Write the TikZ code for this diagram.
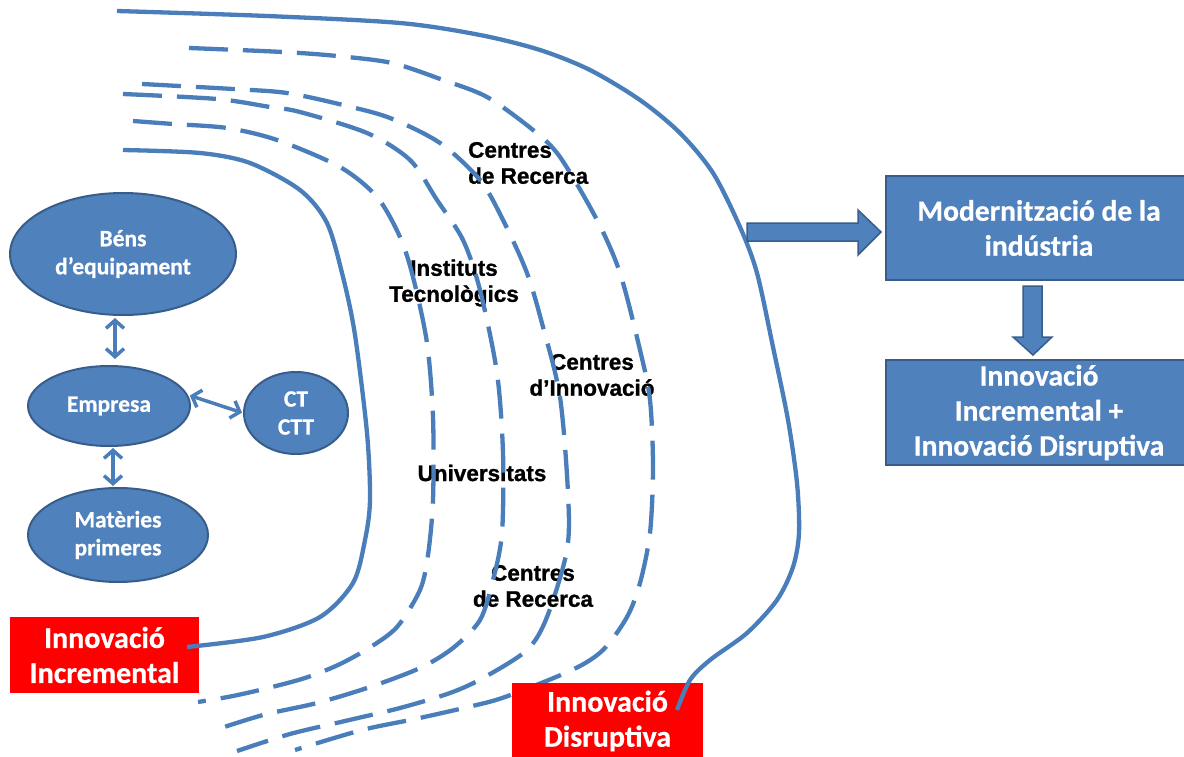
\documentclass[tikz,border=0pt]{standalone}
\usepackage{fontspec}
\newfontfamily\calfont{Carlito}[BoldFeatures={FakeBold=0.6}]
\newfontfamily\arifont{Liberation Sans}[BoldFeatures={FakeBold=1}]
\usetikzlibrary{shapes.geometric,arrows.meta}
\definecolor{lineblue}{HTML}{4A7EBB}
\definecolor{fillblue}{HTML}{4F81BD}
\definecolor{borderblue}{HTML}{385D8A}
\definecolor{redfill}{HTML}{FF0000}
\begin{document}
\begin{tikzpicture}[x=1pt,y=-1pt,
  bubble/.style={ellipse, fill=fillblue, draw=borderblue, line width=2pt, inner sep=0pt, text=white,
    font=\calfont\bfseries\fontsize{23.5}{28}\selectfont, align=center},
  bluebox/.style={rectangle, fill=fillblue, draw=borderblue, line width=2pt, inner sep=0pt, text=white,
    font=\calfont\bfseries\fontsize{29.5}{35}\selectfont, align=center},
  redbox/.style={rectangle, fill=redfill, inner sep=0pt, text=white,
    font=\calfont\bfseries\fontsize{30}{35}\selectfont, align=center},
  lbl/.style={font=\arifont\bfseries\fontsize{22.5}{26}\selectfont, align=center, inner sep=0pt},
  curve/.style={line width=4.3pt, draw=lineblue},
  dashcurve/.style={curve, dash pattern=on 39pt off 15pt},
  link/.style={line width=3.5pt, draw=lineblue,
    {Straight Barb[length=8pt,width=18pt]}-{Straight Barb[length=8pt,width=18pt]}},
  blockarrow/.style={fill=fillblue, draw=borderblue, line width=1.5pt}]
\clip (0,0) rectangle (1184,757);
\fill[white] (0,0) rectangle (1184,757);

% labels (drawn under the curves)
\node[lbl, align=left, anchor=west] (cr1) at (468,163) {Centres\\de Recerca};
\node[lbl] (it) at (454,283) {Instituts\\Tecnològics};
\node[lbl] (ci) at (592,375) {Centres\\d’Innovació};
\node[lbl] (un) at (482,473) {Universitats};
\node[lbl] (cr2) at (533,586) {Centres\\de Recerca};

% dashed curves
\draw[dashcurve] plot[smooth, tension=0.5] coordinates {
  (133,121) (173,124) (227,128) (277,140) (340,167) (377,197) (400,237) (413,277)
  (427,343) (433,417) (433,500) (428,555) (420,590) (397,627) (369,648) (338,665)
  (305,678) (268,688) (233,696) (198,702)};
\draw[dashcurve] plot[smooth, tension=0.5] coordinates {
  (123,94) (217,99) (270,107) (300,112) (367,133) (410,160) (437,200) (463,240)
  (480,290) (497,373) (503,453) (502,533) (493,580) (480,620) (453,648) (420,668)
  (370,687) (317,703) (263,715) (212,731)};
\draw[dashcurve] plot[smooth, tension=0.5] coordinates {
  (142,84) (233,89) (287,93) (343,105) (390,118) (440,143) (480,180) (503,220)
  (527,273) (543,327) (560,397) (568,493) (567,550) (547,617) (527,650) (483,678)
  (450,693) (400,708) (345,721) (290,734) (237,751)};
\draw[dashcurve] plot[smooth, tension=0.5] coordinates {
  (189,48) (283,52) (337,56) (392,63) (443,80) (487,97) (533,130) (560,157)
  (597,220) (620,273) (640,350) (650,400) (653,467) (650,533) (640,583) (627,617)
  (603,650) (572,670) (505,697) (468,707) (415,719) (362,730) (295,750)};

% ellipses
\node[bubble, minimum width=226pt, minimum height=122pt] (bens) at (123,254) {Béns\\d’equipament};
\node[bubble, minimum width=162pt, minimum height=80pt] (emp) at (109,406) {Empresa};
\node[bubble, minimum width=104pt, minimum height=82pt] (ct) at (296,413) {CT\\CTT};
\node[bubble, minimum width=180pt, minimum height=94pt] (mat) at (118,535) {Matèries\\primeres};

\draw[link, shorten <=2pt, shorten >=6pt] ([xshift=-8pt]bens.south) -- ([xshift=6pt]emp.north);
\draw[link, shorten <=1pt, shorten >=1pt] ([xshift=4pt]emp.south) -- ([xshift=-5pt]mat.north);
\draw[link, shorten <=2pt, shorten >=1pt] (emp.8) -- (ct.west);

% red boxes
\node[redbox, minimum width=189pt, minimum height=76pt] (incr) at (104.5,655) {Innovació\\Incremental};
\node[redbox, minimum width=191pt, minimum height=76pt] (disr) at (607.5,721) {Innovació\\Disruptiva};

% solid curves
\draw[curve] plot[smooth, tension=0.5] coordinates {
  (123,150) (200,153) (250,163) (300,190) (327,223) (343,277) (355,335)
  (367,433) (370,500) (365,540) (353,583) (320,617) (263,637) (187,647)};
\draw[curve] plot[smooth, tension=0.5] coordinates {
  (117,11) (267,16) (400,23) (480,35) (540,50) (590,70) (640,100) (680,133)
  (713,173) (740,227) (757,273) (773,347) (788,420) (797,483) (799,533) (793,567)
  (777,600) (747,633) (710,660) (690,680) (677,710)};

% right boxes
\node[bluebox, minimum width=306pt, minimum height=104pt] (mod) at (1039,228) {Modernització de la\\indústria};
\node[bluebox, minimum width=306pt, minimum height=105pt] (res) at (1039,412.5) {Innovació\\Incremental +\\Innovació Disruptiva};

% block arrows
\draw[blockarrow] (747,223) -- (858,223) -- (858,210) -- (881,232) -- (858,255) -- (858,241) -- (747,241) -- cycle;
\draw[blockarrow] (1023,286) -- (1042,286) -- (1042,337) -- (1052,337) -- (1033,355) -- (1013,337) -- (1023,337) -- cycle;
\end{tikzpicture}
\end{document}
